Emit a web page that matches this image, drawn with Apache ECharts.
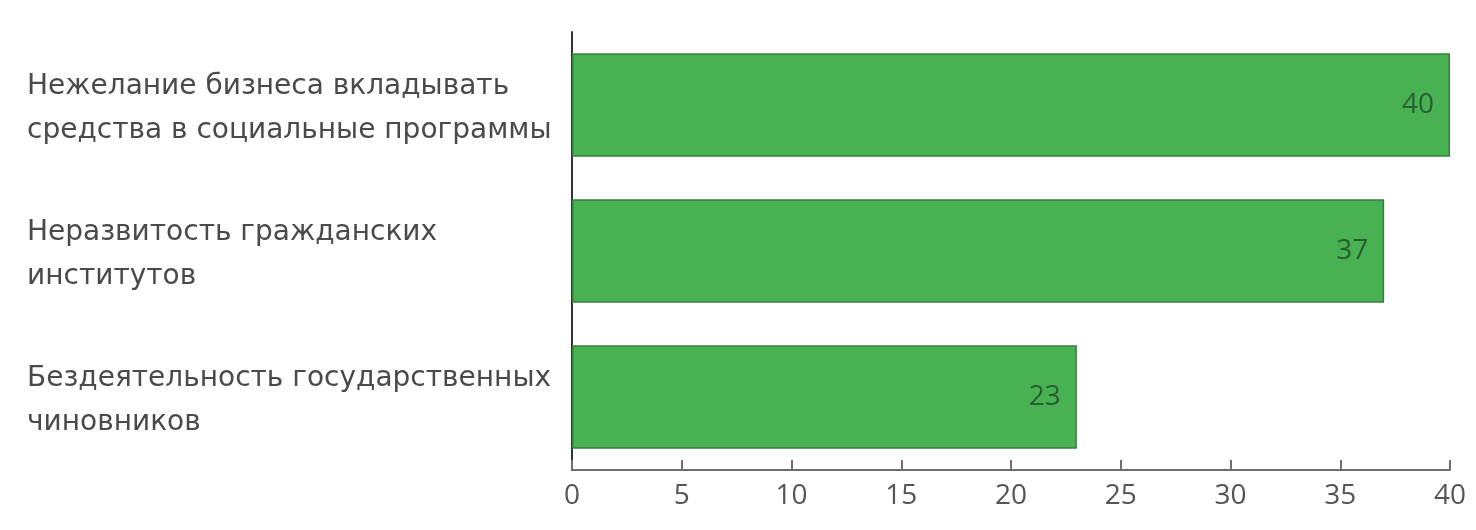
<!DOCTYPE html>
<html>
<head>
<meta charset="utf-8">
<script src="https://cdn.jsdelivr.net/npm/echarts@6/dist/echarts.min.js"></script>
<style>
  html, body { margin: 0; padding: 0; background: #ffffff; }
  #chart { width: 1476px; height: 530px; }
</style>
</head>
<body>
<div id="chart"></div>
<script>
// Причины, по мнению опрошенных, %
const categories = [
  'Нежелание бизнеса вкладывать\nсредства в социальные программы',
  'Неразвитость гражданских\nинститутов',
  'Бездеятельность государственных\nчиновников'
];
const values = [40, 37, 23];
const xTicks = [0, 5, 10, 15, 20, 25, 30, 35, 40];

const FONT = '"Open Sans", "Noto Sans", sans-serif';
const LABEL_FONT = '"DejaVu Sans", "Open Sans", sans-serif';

const chart = echarts.init(document.getElementById('chart'));
chart.setOption({
  backgroundColor: '#ffffff',
  animation: false,
  grid: { left: 572, right: 26, top: 32, bottom: 60 },
  xAxis: {
    type: 'value',
    min: xTicks[0],
    max: xTicks[xTicks.length - 1],
    interval: xTicks[1] - xTicks[0],
    axisLine: { show: true, lineStyle: { color: '#6e6e6e', width: 2 } },
    axisTick: { show: true, inside: true, length: 10, lineStyle: { color: '#6e6e6e', width: 2 } },
    splitLine: { show: false },
    axisLabel: { color: '#555555', fontSize: 28, fontFamily: FONT, margin: 12 }
  },
  yAxis: {
    type: 'category',
    inverse: true,
    data: categories,
    axisLine: { show: true, lineStyle: { color: '#333333', width: 2 } },
    axisTick: { show: false },
    axisLabel: {
      align: 'left', margin: 545,
      // two-line labels: first line sits a little lower than the bar centre
      formatter: v => v.split('\n').map((l, i) => (i === 0 ? '{first|' : '{rest|') + l + '}').join('\n'),
      rich: {
        first: { color: '#4a4a4a', fontSize: 28, fontFamily: LABEL_FONT, lineHeight: 52 },
        rest: { color: '#4a4a4a', fontSize: 28, fontFamily: LABEL_FONT, lineHeight: 36 }
      }
    }
  },
  series: [{
    type: 'bar',
    data: values,
    barCategoryGap: '29%',
    itemStyle: { color: '#48b253', borderColor: '#3a7d42', borderWidth: 1.5 },
    label: {
      show: true, position: 'insideRight', offset: [-11, 0],
      color: '#2a5e31', fontSize: 28, fontFamily: FONT
    }
  }]
});
</script>
</body>
</html>
